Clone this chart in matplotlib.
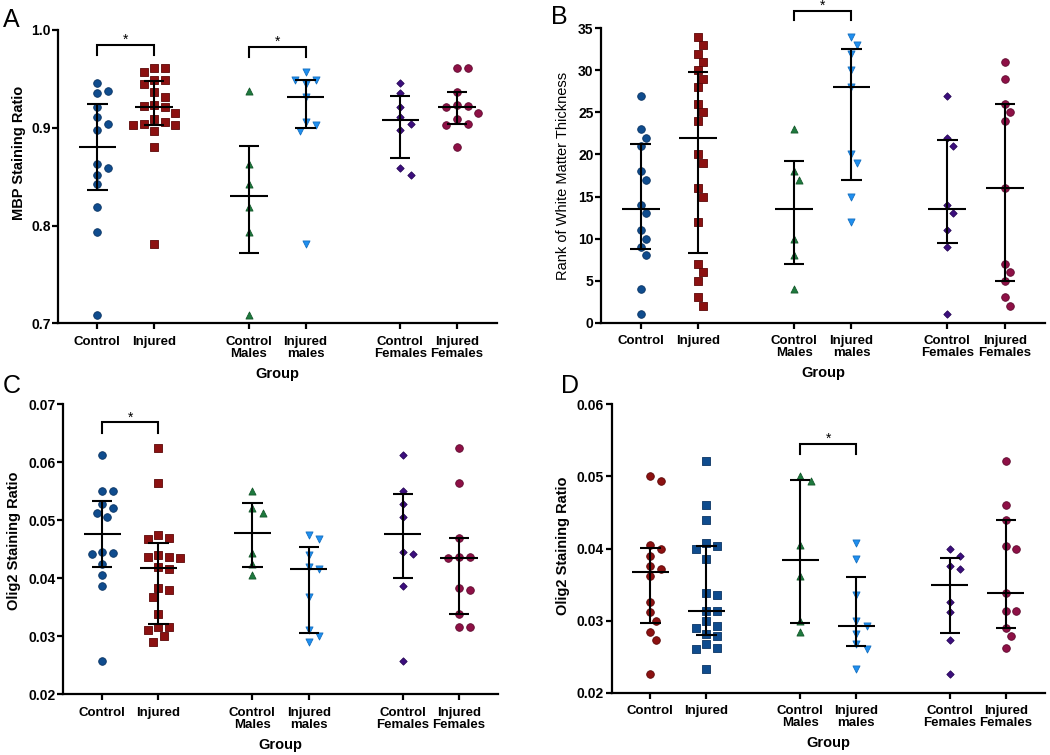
import numpy as np
import matplotlib
matplotlib.use('Agg')
import matplotlib.pyplot as plt

plt.rcParams['font.family'] = ['Liberation Sans', 'DejaVu Sans']

### DATA ###
group_labels = ['Control', 'Injured', 'Control\nMales', 'Injured\nmales',
                'Control\nFemales', 'Injured\nFemales']

# A: MBP staining ratio
mbp_control_males = [0.938, 0.863, 0.842, 0.819, 0.793, 0.708]
mbp_control_females = [0.946, 0.936, 0.921, 0.911, 0.904, 0.898, 0.859, 0.852]
mbp_injured_males = [0.957, 0.949, 0.949, 0.945, 0.931, 0.906, 0.903, 0.897, 0.781]
mbp_injured_females = [0.961, 0.961, 0.937, 0.923, 0.922, 0.921, 0.915, 0.909, 0.904, 0.903, 0.880]

# B: rank of white matter thickness
rank_control_males = [23, 18, 17, 10, 8, 4]
rank_control_females = [27, 22, 21, 14, 13, 11, 9, 1]
rank_injured_males = [34, 33, 32, 30, 28, 20, 19, 15, 12]
rank_injured_females = [31, 29, 26, 25, 24, 16, 7, 6, 5, 3, 2]

# C: Olig2 staining ratio (first region)
olig_c_control_males = [0.0551, 0.0522, 0.0512, 0.0443, 0.0424, 0.0405]
olig_c_control_females = [0.0613, 0.0551, 0.0528, 0.0506, 0.0446, 0.0442, 0.0387, 0.0257]
olig_c_injured_males = [0.0475, 0.0468, 0.0440, 0.0420, 0.0416, 0.0367, 0.0310, 0.0301, 0.0291]
olig_c_injured_females = [0.0625, 0.0564, 0.0470, 0.0437, 0.0436, 0.0435, 0.0383, 0.0380, 0.0339, 0.0316, 0.0316]

# D: Olig2 staining ratio (second region)
olig_d_control_males = [0.0500, 0.0493, 0.0405, 0.0362, 0.0300, 0.0284]
olig_d_control_females = [0.0399, 0.0390, 0.0376, 0.0372, 0.0326, 0.0312, 0.0273, 0.0226]
olig_d_injured_males = [0.0407, 0.0385, 0.0336, 0.0299, 0.0293, 0.0282, 0.0268, 0.0261, 0.0233]
olig_d_injured_females = [0.0522, 0.0461, 0.0440, 0.0404, 0.0400, 0.0338, 0.0314, 0.0314, 0.0290, 0.0279, 0.0262]

### STYLE ###
x_pos = [0, 1, 2.67, 3.67, 5.34, 6.34]

BLUE_CIRCLE = dict(marker='o', color='#0f4c8e', edge='#0a3463', s=30)
RED_SQUARE = dict(marker='s', color='#8c1111', edge='#5c0808', s=30)
RED_CIRCLE = dict(marker='o', color='#8c1111', edge='#5c0808', s=30)
BLUE_SQUARE = dict(marker='s', color='#0f4c8e', edge='#0a3463', s=30)
GREEN_UP = dict(marker='^', color='#1e7a3e', edge='#14582b', s=26)
CYAN_DOWN = dict(marker='v', color='#1f8ff0', edge='#1670c0', s=26)
PURPLE_DIAMOND = dict(marker='D', color='#3c0d7e', edge='#260655', s=14)
MAROON_CIRCLE = dict(marker='o', color='#8e1046', edge='#5e0a2e', s=30)

styles_abc = [BLUE_CIRCLE, RED_SQUARE, GREEN_UP, CYAN_DOWN, PURPLE_DIAMOND, MAROON_CIRCLE]
styles_d = [RED_CIRCLE, BLUE_SQUARE, GREEN_UP, CYAN_DOWN, PURPLE_DIAMOND, MAROON_CIRCLE]


### UTILS ###

# Column scatter offsets (GraphPad-like): spread points that would overlap
def swarm_offsets(ax, x, values, step_px=5.3, min_dist_px=9.5):
	pts = ax.transData.transform(np.column_stack([np.full(len(values), x), values]))
	ypix = pts[:, 1]
	order = np.argsort(-ypix)
	candidates = [0] + [s*j for j in range(1, 12) for s in (1, -1)]
	placed = []
	offsets = np.zeros(len(values))
	for i in order:
		for c in candidates:
			off = c*step_px
			if all(np.hypot(ypix[i] - py, off - po) >= min_dist_px for py, po in placed):
				break
		placed.append((ypix[i], off))
		offsets[i] = off
	px_per_unit = ax.transData.transform((1, 0))[0] - ax.transData.transform((0, 0))[0]
	return offsets/px_per_unit

# Median with interquartile range
def median_iqr(ax, x, values):
	q1, med, q3 = np.percentile(values, [25, 50, 75], method='weibull')
	ax.hlines(med, x - 0.33, x + 0.33, color='black', lw=1.5, zorder=4)
	ax.vlines(x, q1, q3, color='black', lw=1.5, zorder=4)
	ax.hlines([q1, q3], x - 0.18, x + 0.18, color='black', lw=1.5, zorder=4)

def bracket(ax, x0, x1, y_leg, y_top):
	ax.plot([x0, x0, x1, x1], [y_leg, y_top, y_top, y_leg], color='black', lw=1.5,
	        clip_on=False, solid_joinstyle='miter')
	ax.annotate('*', xy=((x0 + x1)/2, y_top), xytext=(0, 3.6), textcoords='offset points',
	            ha='center', va='center', fontsize=10, annotation_clip=False)

def panel(fig, rect, series, styles, ylim, yticks, fmt, ylabel, brackets,
          label_bold=True, labelpad=3, label_y=0.5):
	ax = fig.add_axes(rect)
	ax.set_xlim(-0.69, 7.04)
	ax.set_ylim(*ylim)
	ax.set_yticks(yticks)
	ax.set_yticklabels([fmt.format(t) for t in yticks], fontsize=10, fontweight='bold')
	ax.set_xticks(x_pos)
	ax.set_xticklabels(group_labels, fontsize=9.5, fontweight='bold', linespacing=1.0)
	ax.spines['top'].set_visible(False)
	ax.spines['right'].set_visible(False)
	for side in ['left', 'bottom']:
		ax.spines[side].set_linewidth(1.6)
	ax.tick_params(axis='both', width=1.6, length=4, direction='out')
	ax.tick_params(axis='x', pad=5)
	ax.tick_params(axis='y', pad=1.5)
	ax.set_xlabel('Group', fontsize=10.5, fontweight='bold', labelpad=5)
	ax.set_ylabel(ylabel, fontsize=10.5, fontweight='bold' if label_bold else 'normal', labelpad=labelpad)
	ax.yaxis.label.set_y(label_y)

	for x, values, st in zip(x_pos, series, styles):
		values = np.asarray(values, dtype=float)
		dx = swarm_offsets(ax, x, values)
		ax.scatter(x + dx, values, marker=st['marker'], s=st['s'], facecolor=st['color'],
		           edgecolor=st['edge'], linewidth=0.6, zorder=3, clip_on=False)
		median_iqr(ax, x, values)

	for x0, x1, y_leg, y_top in brackets:
		bracket(ax, x_pos[x0], x_pos[x1], y_leg, y_top)
	return ax

def four_groups(c_m, c_f, i_m, i_f):
	return [c_m + c_f, i_m + i_f, c_m, i_m, c_f, i_f]


### FIGURE ###
fig = plt.figure(figsize=(10.5, 7.55), dpi=100)

panel(fig, [0.0555, 0.5718, 0.4175, 0.3885],
      four_groups(mbp_control_males, mbp_control_females, mbp_injured_males, mbp_injured_females),
      styles_abc, (0.7, 1.0), [0.7, 0.8, 0.9, 1.0], '{:.1f}', 'MBP Staining Ratio',
      [(0, 1, 0.9744, 0.9846), (2, 3, 0.9726, 0.9828)], labelpad=4, label_y=0.58)

panel(fig, [0.5724, 0.5726, 0.4229, 0.3899],
      four_groups(rank_control_males, rank_control_females, rank_injured_males, rank_injured_females),
      styles_abc, (0, 35), list(range(0, 36, 5)), '{:d}', 'Rank of White Matter Thickness',
      [(2, 3, 36.0, 37.1)], label_bold=False, labelpad=6)

panel(fig, [0.0603, 0.0804, 0.4143, 0.3841],
      four_groups(olig_c_control_males, olig_c_control_females, olig_c_injured_males, olig_c_injured_females),
      styles_abc, (0.02, 0.07), [0.02, 0.03, 0.04, 0.05, 0.06, 0.07], '{:.2f}', 'Olig2 Staining Ratio',
      [(0, 1, 0.0651, 0.0669)], labelpad=5, label_y=0.53)

panel(fig, [0.5826, 0.0825, 0.4127, 0.3820],
      four_groups(olig_d_control_males, olig_d_control_females, olig_d_injured_males, olig_d_injured_females),
      styles_d, (0.02, 0.06), [0.02, 0.03, 0.04, 0.05, 0.06], '{:.2f}', 'Olig2 Staining Ratio',
      [(2, 3, 0.0531, 0.0545)], labelpad=5, label_y=0.51)

for letter, x, y in [('A', 0.003, 0.974), ('B', 0.525, 0.977), ('C', 0.003, 0.489), ('D', 0.534, 0.489)]:
	fig.text(x, y, letter, fontsize=18, ha='left', va='center')

fig.savefig('out.png', dpi=100)
